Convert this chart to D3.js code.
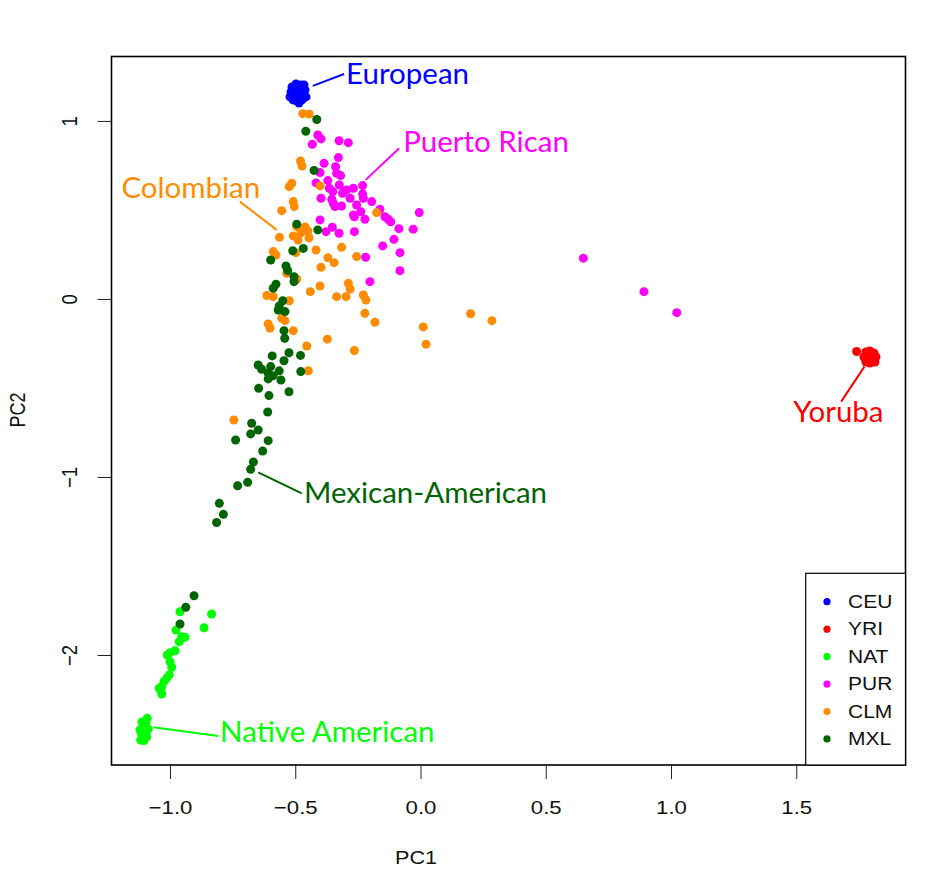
<!DOCTYPE html>
<html>
<head>
<meta charset="utf-8">
<script src="https://cdn.jsdelivr.net/npm/d3@7"></script>
<style>
  body { margin: 0; background: #fff; }
  .tick line { stroke: #222; }
</style>
</head>
<body>
<div id="chart"></div>
<script>
// population groups, in legend and drawing order
var groups = ['CEU', 'YRI', 'NAT', 'PUR', 'CLM', 'MXL'];
var groupColors = ['#0000ff', '#ff0000', '#00ff00', '#ff00ff', '#ff8c00', '#006400'];

var xTicks = [-1.0, -0.5, 0.0, 0.5, 1.0, 1.5];
var yTicks = [-2, -1, 0, 1];

// PC1 / PC2 scores, one [pc1, pc2] per sample
var ceuPoints = [
  [-0.493, 1.185], [-0.481, 1.163], [-0.505, 1.146], [-0.469, 1.140], [-0.517, 1.163],
  [-0.489, 1.124], [-0.461, 1.174], [-0.497, 1.208], [-0.477, 1.202], [-0.509, 1.118],
  [-0.485, 1.101], [-0.457, 1.135], [-0.521, 1.135], [-0.473, 1.118], [-0.501, 1.174],
  [-0.465, 1.202], [-0.489, 1.146], [-0.513, 1.191], [-0.481, 1.135], [-0.493, 1.112]
];

var yriPoints = [
  [1.741, -0.295], [1.778, -0.298], [1.794, -0.292], [1.810, -0.303], [1.818, -0.326],
  [1.782, -0.320], [1.798, -0.326], [1.786, -0.343], [1.806, -0.348], [1.778, -0.354],
  [1.794, -0.360], [1.814, -0.354], [1.770, -0.326], [1.802, -0.315], [1.790, -0.309]
];

var natPoints = [
  [-0.960, -1.757], [-0.834, -1.770], [-0.864, -1.847], [-0.976, -1.860], [-0.953, -1.897],
  [-0.940, -1.901], [-0.963, -1.925], [-0.980, -1.976], [-1.000, -1.987], [-1.011, -2.000],
  [-1.000, -2.038], [-0.993, -2.069], [-1.003, -2.112], [-1.013, -2.131], [-1.024, -2.150],
  [-1.033, -2.178], [-1.043, -2.187], [-1.033, -2.219], [-1.091, -2.356], [-1.096, -2.384],
  [-1.107, -2.406], [-1.120, -2.421], [-1.087, -2.417], [-1.113, -2.449], [-1.093, -2.459],
  [-1.117, -2.478], [-1.104, -2.481], [-1.096, -2.433], [-1.112, -2.376]
];

var purPoints = [
  [-0.410, 0.921], [-0.397, 0.899], [-0.432, 0.869], [-0.325, 0.889], [-0.288, 0.878],
  [-0.328, 0.794], [-0.385, 0.762], [-0.339, 0.743], [-0.401, 0.710], [-0.335, 0.706],
  [-0.319, 0.693], [-0.370, 0.665], [-0.417, 0.652], [-0.324, 0.640], [-0.231, 0.637],
  [-0.268, 0.622], [-0.295, 0.612], [-0.350, 0.603], [-0.364, 0.622], [-0.311, 0.594],
  [-0.231, 0.590], [-0.281, 0.566], [-0.228, 0.566], [-0.397, 0.566], [-0.354, 0.560],
  [-0.195, 0.547], [-0.348, 0.538], [-0.255, 0.528], [-0.315, 0.522], [-0.341, 0.519],
  [-0.162, 0.504], [-0.238, 0.490], [-0.268, 0.472], [-0.142, 0.462], [-0.264, 0.462],
  [-0.129, 0.448], [-0.222, 0.448], [-0.119, 0.434], [-0.005, 0.485], [-0.401, 0.444],
  [-0.352, 0.403], [-0.086, 0.395], [-0.029, 0.392], [-0.377, 0.378], [-0.325, 0.369],
  [-0.264, 0.378], [-0.106, 0.335], [-0.151, 0.298], [-0.082, 0.260], [-0.219, 0.234],
  [-0.082, 0.159], [-0.202, 0.097], [0.650, 0.229], [0.892, 0.041], [1.023, -0.077]
];

var clmPoints = [
  [-0.470, 1.041], [-0.444, 1.039], [-0.479, 0.775], [-0.473, 0.747], [-0.514, 0.650],
  [-0.524, 0.631], [-0.401, 0.635], [-0.508, 0.547], [-0.504, 0.519], [-0.554, 0.496],
  [-0.175, 0.485], [-0.494, 0.406], [-0.461, 0.404], [-0.449, 0.382], [-0.477, 0.371],
  [-0.445, 0.343], [-0.563, 0.346], [-0.508, 0.354], [-0.489, 0.331], [-0.588, 0.266],
  [-0.577, 0.247], [-0.498, 0.260], [-0.417, 0.275], [-0.315, 0.290], [-0.370, 0.232],
  [-0.345, 0.204], [-0.255, 0.238], [-0.397, 0.178], [-0.534, 0.144], [-0.494, 0.112],
  [-0.288, 0.088], [-0.281, 0.056], [-0.401, 0.073], [-0.440, 0.041], [-0.335, 0.013],
  [-0.297, 0.013], [-0.228, 0.022], [-0.218, -0.006], [-0.614, 0.019], [-0.588, 0.013],
  [-0.524, -0.010], [-0.554, -0.108], [-0.541, -0.122], [-0.608, -0.140], [-0.601, -0.163],
  [-0.508, -0.178], [-0.222, -0.080], [-0.182, -0.131], [-0.372, -0.226], [-0.454, -0.264],
  [-0.264, -0.290], [-0.448, -0.403], [-0.745, -0.680], [0.011, -0.157], [0.022, -0.254],
  [0.200, -0.083], [0.285, -0.122]
];

var mxlPoints = [
  [-0.414, 1.008], [-0.458, 0.942], [-0.425, 0.722], [-0.494, 0.420], [-0.410, 0.388],
  [-0.468, 0.284], [-0.510, 0.271], [-0.598, 0.219], [-0.537, 0.185], [-0.530, 0.159],
  [-0.505, 0.125], [-0.505, 0.097], [-0.577, 0.083], [-0.588, 0.060], [-0.550, -0.010],
  [-0.564, -0.039], [-0.568, -0.062], [-0.541, -0.071], [-0.545, -0.178], [-0.542, -0.221],
  [-0.479, -0.317], [-0.592, -0.320], [-0.525, -0.302], [-0.545, -0.347], [-0.648, -0.371],
  [-0.634, -0.395], [-0.598, -0.380], [-0.608, -0.417], [-0.564, -0.404], [-0.588, -0.431],
  [-0.608, -0.449], [-0.557, -0.455], [-0.478, -0.408], [-0.646, -0.502], [-0.605, -0.543],
  [-0.525, -0.521], [-0.610, -0.635], [-0.674, -0.698], [-0.648, -0.736], [-0.678, -0.758],
  [-0.738, -0.792], [-0.608, -0.796], [-0.630, -0.854], [-0.667, -0.916], [-0.678, -0.957],
  [-0.690, -1.030], [-0.730, -1.049], [-0.803, -1.148], [-0.787, -1.210], [-0.814, -1.256],
  [-0.904, -1.667], [-0.937, -1.732], [-0.960, -1.826]
];

var groupPoints = [ceuPoints, yriPoints, natPoints, purPoints, clmPoints, mxlPoints];

// call-out labels: text start and leader line, in PC units
var labelNames = ['European', 'Yoruba', 'Native American', 'Puerto Rican', 'Colombian', 'Mexican-American'];
var labelText  = [[-0.297, 1.208], [1.488, -0.691], [-0.800, -2.489], [-0.069, 0.826], [-1.194, 0.567], [-0.465, -1.146]];
var labelLine  = [
  [[-0.430, 1.197], [-0.305, 1.264]],
  [[1.772, -0.380], [1.679, -0.577]],
  [[-1.067, -2.406], [-0.807, -2.455]],
  [[-0.219, 0.669], [-0.085, 0.847]],
  [[-0.721, 0.547], [-0.574, 0.388]],
  [[-0.648, -0.974], [-0.474, -1.092]]
];

var svgWidth = 947;
var svgHeight = 892;
var box = { left: 111.5, right: 905.5, top: 56.5, bottom: 765 };
var stretch = 1.2;   // R text in the picture is a bit wide
var rFont = '"Liberation Sans", Arial, sans-serif';

var svg = d3.select('#chart').append('svg')
  .attr('width', svgWidth)
  .attr('height', svgHeight)
  .style('font-family', rFont);

var xScale = d3.scaleLinear()
  .domain([-1.2335, 1.936])
  .range([box.left, box.right]);

var yScale = d3.scaleLinear()
  .domain([-2.618, 1.362])
  .range([box.bottom, box.top]);

// x axis
var xAxis = svg.append('g')
  .attr('transform', 'translate(0,' + box.bottom + ')')
  .call(d3.axisBottom(xScale).tickValues(xTicks).tickSize(14).tickFormat(d3.format('.1f')));
xAxis.select('.domain').remove();
xAxis.selectAll('text')
  .attr('y', 43)
  .attr('dy', '0.35em')
  .attr('transform', 'scale(' + stretch + ',1)')
  .style('font-family', rFont)
  .style('font-size', '18.5px')
  .attr('fill', '#111');

// y axis, labels turned to run along the axis
var yAxis = svg.append('g')
  .attr('transform', 'translate(' + box.left + ',0)')
  .call(d3.axisLeft(yScale).tickValues(yTicks).tickSize(14).tickFormat(d3.format('d')));
yAxis.select('.domain').remove();
yAxis.selectAll('text')
  .attr('x', 0)
  .attr('y', 0)
  .attr('dy', '0.35em')
  .attr('text-anchor', 'middle')
  .attr('transform', 'translate(-42,0) scale(' + stretch + ',1) rotate(-90)')
  .style('font-family', rFont)
  .style('font-size', '18.5px')
  .attr('fill', '#111');

// axis titles
svg.append('text')
  .attr('transform', 'translate(416,858) scale(' + stretch + ',1)')
  .attr('dy', '0.35em')
  .attr('text-anchor', 'middle')
  .style('font-size', '18px')
  .attr('fill', '#111')
  .text('PC1');

svg.append('text')
  .attr('transform', 'translate(17,410) scale(' + stretch + ',1) rotate(-90)')
  .attr('dy', '0.35em')
  .attr('text-anchor', 'middle')
  .style('font-size', '18px')
  .attr('fill', '#111')
  .text('PC2');

// plot points, one layer per group
groups.forEach(function(g, i) {
  svg.append('g').selectAll('circle')
    .data(groupPoints[i])
    .enter()
    .append('circle')
    .attr('cx', function(d) { return xScale(d[0]); })
    .attr('cy', function(d) { return yScale(d[1]); })
    .attr('r', 4.5)
    .attr('fill', groupColors[i]);
});

// frame
svg.append('rect')
  .attr('x', box.left)
  .attr('y', box.top)
  .attr('width', box.right - box.left)
  .attr('height', box.bottom - box.top)
  .attr('fill', 'none')
  .attr('stroke', '#000')
  .attr('stroke-width', 1.6);

// call-out labels
labelNames.forEach(function(name, i) {
  var col = groupColors[i];
  var ln = labelLine[i];
  svg.append('line')
    .attr('x1', xScale(ln[0][0])).attr('y1', yScale(ln[0][1]))
    .attr('x2', xScale(ln[1][0])).attr('y2', yScale(ln[1][1]))
    .attr('stroke', col)
    .attr('stroke-width', 2);
  svg.append('text')
    .attr('x', xScale(labelText[i][0]))
    .attr('y', yScale(labelText[i][1]))
    .style('font-family', 'Lato, "Open Sans", sans-serif')
    .style('font-size', '29.5px')
    .attr('fill', col)
    .text(name);
});

// legend, bottom right
var legend = svg.append('g');
legend.append('rect')
  .attr('x', 805.7)
  .attr('y', 573.3)
  .attr('width', box.right - 805.7)
  .attr('height', box.bottom - 573.3)
  .attr('fill', '#fff')
  .attr('stroke', '#000')
  .attr('stroke-width', 1.2);

var rows = legend.selectAll('g.row')
  .data(groups)
  .enter()
  .append('g')
  .attr('class', 'row')
  .attr('transform', function(d, i) { return 'translate(827,' + (601.7 + i * 27.45) + ')'; });

rows.append('circle')
  .attr('r', 3.6)
  .attr('fill', function(d, i) { return groupColors[i]; });

rows.append('text')
  .attr('transform', 'translate(21,0) scale(' + stretch + ',1)')
  .attr('dy', '0.36em')
  .style('font-size', '17.5px')
  .attr('fill', '#111')
  .text(function(d) { return d; });
</script>
</body>
</html>
